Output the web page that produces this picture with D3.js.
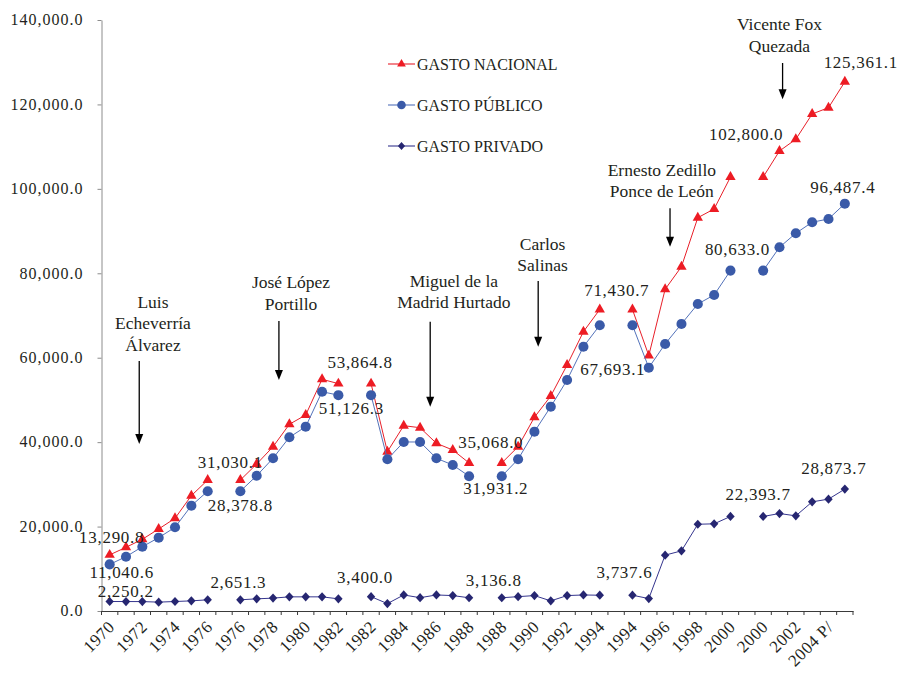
<!DOCTYPE html>
<html>
<head>
<meta charset="utf-8">
<script src="https://cdn.jsdelivr.net/npm/d3@7"></script>
<style>
  body { margin: 0; background: #fff; }
  #chart { width: 903px; height: 674px; }
  text { font-family: "Liberation Serif", "DejaVu Serif", serif; fill: #231f20; }
</style>
</head>
<body>
<div id="chart"></div>
<script>
// categories: each sexenio is its own run, blank category between runs
var categories = ["1970","1971","1972","1973","1974","1975","1976","",
  "1976","1977","1978","1979","1980","1981","1982","",
  "1982","1983","1984","1985","1986","1987","1988","",
  "1988","1989","1990","1991","1992","1993","1994","",
  "1994","1995","1996","1997","1998","1999","2000","",
  "2000","2001","2002","2003","2004 P/","2005 P/"];

var gastoNacional = [13290.8, 15090, 16990, 19430, 21960, 27320, 31030.1, null,
  31030.1, 34820, 38920, 44230, 46430, 54890, 53864.8, null,
  53864.8, 37740, 43900, 43420, 39730, 38140, 35068.0, null,
  35068.0, 38920, 45890, 50930, 58280, 66170, 71430.7, null,
  71430.7, 60500, 76210, 81570, 93170, 95240, 102800.0, null,
  102800.0, 108970, 111750, 117740, 119230, 125361.1];

var gastoPublico = [11040.6, 12860, 15230, 17370, 19830, 24950, 28378.8, null,
  28378.8, 32050, 36180, 41150, 43660, 51950, 51126.3, null,
  51126.3, 35940, 40040, 40040, 36180, 34590, 31931.2, null,
  31931.2, 35940, 42480, 48400, 54720, 62610, 67693.1, null,
  67693.1, 57640, 63250, 68000, 72730, 74860, 80633.0, null,
  80633.0, 86160, 89480, 92090, 92870, 96487.4];

var gastoPrivado = [2250.2, 2240, 2230, 2100, 2250, 2400, 2651.3, null,
  2651.3, 2880, 3050, 3350, 3350, 3350, 2880, null,
  3400.0, 1750, 3800, 3150, 3800, 3650, 3136.8, null,
  3136.8, 3400, 3650, 2400, 3650, 3800, 3737.6, null,
  3737.6, 2950, 13230, 14250, 20550, 20650, 22393.7, null,
  22393.7, 23090, 22540, 25860, 26500, 28873.7];

var yTicks = [0, 20000, 40000, 60000, 80000, 100000, 120000, 140000];

// presidents: text lines, category position, value of first line, arrow from/to values
var presidentes = [
  { lines: ["Luis", "Echeverría", "Álvarez"], at: 2.65, top: 71780, arrowAt: 1.81, from: 59220, to: 39560 },
  { lines: ["José López", "Portillo"], at: 11.1, top: 76450, arrowAt: 10.36, from: 68700, to: 54720 },
  { lines: ["Miguel de la", "Madrid Hurtado"], at: 21.07, top: 76760, arrowAt: 19.62, from: 68530, to: 48400 },
  { lines: ["Carlos", "Salinas"], at: 26.5, top: 85520, arrowAt: 26.23, from: 78170, to: 62610 },
  { lines: ["Ernesto Zedillo", "Ponce de León"], at: 33.8, top: 103050, arrowAt: 34.3, from: 95390, to: 86300 },
  { lines: ["Vicente Fox", "Quezada"], at: 41.0, top: 137630, arrowAt: 41.19, from: 129810, to: 121210 }
];

var serif = '"Liberation Serif", "DejaVu Serif", serif';
var margin = { left: 101.5, right: 853, top: 20, bottom: 611 };

var svg = d3.select("#chart").append("svg")
    .attr("width", 903)
    .attr("height", 674);

var x = d3.scaleBand()
    .domain(d3.range(categories.length))
    .range([margin.left, margin.right])
    .padding(0);

var y = d3.scaleLinear()
    .domain([0, 140000])
    .range([margin.bottom, margin.top]);

function xc(i){ return x(0) + x.bandwidth() / 2 + i * x.step(); }

var fmt = d3.format(",.1f");

// y axis
var yAxis = svg.append("g")
    .attr("transform", "translate(" + margin.left + ",0)")
    .call(d3.axisLeft(y).tickValues(yTicks).tickFormat(fmt).tickSize(4).tickSizeOuter(0).tickPadding(14));
yAxis.attr("font-family", serif);
yAxis.select(".domain").attr("stroke", "#8c8c8c");
yAxis.selectAll(".tick line").attr("stroke", "#8c8c8c");
yAxis.selectAll("text")
    .style("font-family", serif)
    .style("font-size", "16px")
    .style("letter-spacing", "1px")
    .attr("dy", "0.3em")
    .attr("fill", "#231f20");

// x axis, labels every other category
var xAxis = svg.append("g")
    .attr("transform", "translate(0," + margin.bottom + ")")
    .call(d3.axisBottom(x).tickSize(0).tickSizeOuter(0)
      .tickFormat(function(i){ return i % 2 === 0 ? categories[i] : ""; }));
xAxis.attr("font-family", serif);
xAxis.select(".domain").attr("stroke", "#3a3a3a");
xAxis.selectAll("text")
    .attr("x", 0).attr("y", 0).attr("dy", 0)
    .style("text-anchor", "end")
    .style("font-family", serif)
    .style("font-size", "17px")
    .style("letter-spacing", "0.5px")
    .attr("fill", "#231f20")
    .attr("transform", "translate(6,17) rotate(-45)");

// tick marks between categories
svg.append("g").selectAll("line")
    .data(d3.range(categories.length + 1))
  .enter().append("line")
    .attr("x1", function(i){ return x(0) + i * x.step(); })
    .attr("x2", function(i){ return x(0) + i * x.step(); })
    .attr("y1", margin.bottom)
    .attr("y2", margin.bottom + 4)
    .attr("stroke", "#3a3a3a");

var series = [
  { name: "GASTO NACIONAL", values: gastoNacional, line: "#e8202a", fill: "#ed1c24", shape: "triangle" },
  { name: "GASTO PÚBLICO", values: gastoPublico, line: "#5372ba", fill: "#3a5aa8", shape: "circle" },
  { name: "GASTO PRIVADO", values: gastoPrivado, line: "#35358e", fill: "#262671", shape: "diamond" }
];

function markerPath(shape, k){
  k = k || 1;
  if (shape === "triangle") return d3.symbol().type(d3.symbolTriangle).size(46 * k * k)();
  if (shape === "circle") return d3.symbol().type(d3.symbolCircle).size(80 * k * k)();
  var w = 4.2 * k, h = 4.6 * k;
  return "M0," + (-h) + "L" + w + ",0L0," + h + "L" + (-w) + ",0Z";
}

var line = d3.line()
    .defined(function(d){ return d != null; })
    .x(function(d, i){ return xc(i); })
    .y(function(d){ return y(d); });

series.forEach(function(s){
  var g = svg.append("g");
  g.append("path")
    .datum(s.values)
    .attr("d", line)
    .attr("fill", "none")
    .attr("stroke", s.line)
    .attr("stroke-width", 1);
  g.selectAll("path.mk")
    .data(s.values.map(function(v, i){ return { v: v, i: i }; }).filter(function(d){ return d.v != null; }))
  .enter().append("path")
    .attr("class", "mk")
    .attr("d", markerPath(s.shape))
    .attr("transform", function(d){ return "translate(" + xc(d.i) + "," + y(d.v) + ")"; })
    .attr("fill", s.fill);
});

// data labels: series index, category index, offset from the point
var etiquetas = [
  [0, 0, 2, -12], [1, 0, 12, 14], [2, 0, 16, -5],
  [0, 8, -10, -12], [1, 8, 0, 20], [2, 8, -2, -12],
  [0, 16, -11, -16], [1, 14, 13, 19], [2, 16, -6, -14],
  [0, 24, -11, -15], [1, 24, -6, 18], [2, 24, -8, -12],
  [0, 30, 17, -13], [1, 30, 13, 50], [2, 32, -8, -17],
  [1, 38, 7, -16], [0, 40, -17, -37], [2, 40, -5, -16],
  [0, 45, 16, -14], [1, 45, -2, -11], [2, 45, -11, -15]
];

svg.append("g").selectAll("text")
    .data(etiquetas)
  .enter().append("text")
    .attr("x", function(d){ return xc(d[1]) + d[2]; })
    .attr("y", function(d){ return y(series[d[0]].values[d[1]]) + d[3]; })
    .attr("text-anchor", "middle")
    .style("font-size", "17px")
    .style("letter-spacing", "0.7px")
    .text(function(d){ return fmt(series[d[0]].values[d[1]]); });

// president annotations
var ann = svg.append("g");
presidentes.forEach(function(p){
  var t = ann.append("text")
    .attr("text-anchor", "middle")
    .style("font-size", "17.5px");
  p.lines.forEach(function(l, j){
    t.append("tspan")
      .attr("x", xc(p.at))
      .attr("y", y(p.top) + j * 21.5)
      .text(l);
  });
  var ax = xc(p.arrowAt), y1 = y(p.from), y2 = y(p.to);
  ann.append("line")
    .attr("x1", ax).attr("x2", ax)
    .attr("y1", y1).attr("y2", y2 - 6)
    .attr("stroke", "#000")
    .attr("stroke-width", 1.3);
  ann.append("path")
    .attr("d", "M" + ax + "," + y2 + "L" + (ax - 4) + "," + (y2 - 10) + "L" + (ax + 4) + "," + (y2 - 10) + "Z")
    .attr("fill", "#000");
});

// legend
var legend = svg.append("g");
series.forEach(function(s, j){
  var ly = 64 + j * 41;
  legend.append("line")
    .attr("x1", 388).attr("x2", 415)
    .attr("y1", ly).attr("y2", ly)
    .attr("stroke", s.line)
    .attr("stroke-width", 1.1);
  legend.append("path")
    .attr("d", markerPath(s.shape, 0.85))
    .attr("transform", "translate(401.5," + ly + ")")
    .attr("fill", s.fill);
  legend.append("text")
    .attr("x", 417)
    .attr("y", ly + 6)
    .style("font-size", "16px")
    .text(s.name);
});
</script>
</body>
</html>
